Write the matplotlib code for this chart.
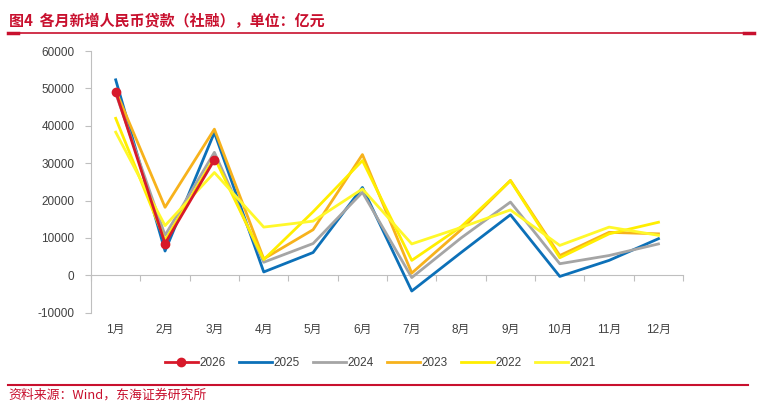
import matplotlib.pyplot as plt
from matplotlib.lines import Line2D
import numpy as np

months = ['1月', '2月', '3月', '4月', '5月', '6月', '7月', '8月', '9月', '10月', '11月', '12月']
years = ['2026', '2025', '2024', '2023', '2022', '2021']
nan = np.nan
v2026 = [49100, 8500, 30900, nan, nan, nan, nan, nan, nan, nan, nan, nan]
v2025 = [52300, 6500, 38200, 900, 6100, 23500, -4200, 6100, 16200, -300, 4000, 9800]
v2024 = [48700, 10700, 32900, 3500, 8500, 22200, -600, 10000, 19600, 3100, 5300, 8400]
v2023 = [49400, 18200, 39100, 4400, 12200, 32300, 600, 12200, 25400, 5300, 11500, 11100]
v2022 = [42000, 9300, 31500, 4200, 17000, 30700, 4000, 13000, 25300, 4700, 11100, 14200]
v2021 = [38300, 13300, 27500, 12900, 14500, 23100, 8400, 12800, 17500, 8000, 12900, 10700]
yticks = [-10000, 0, 10000, 20000, 30000, 40000, 50000, 60000]

colors = ['#D7192A', '#0C70B8', '#A5A5A5', '#F7B21C', '#FFEE00', '#FFF82A']
series = [v2026, v2025, v2024, v2023, v2022, v2021]

plt.rcParams['font.family'] = ['Liberation Sans', 'Noto Sans CJK SC']
red = '#C8102E'
txt = '#404040'
axc = '#BFBFBF'

fig = plt.figure(figsize=(7.65, 4.15), dpi=100)
ax = fig.add_axes([0.119, 0.2465, 0.774, 0.6305])

x = np.arange(len(months))
# draw older years first, 2026 on top
for i in range(len(years) - 1, -1, -1):
    if years[i] == '2026':
        ax.plot(x, series[i], color=colors[i], lw=2.0, marker='o', markersize=6, zorder=10)
    else:
        ax.plot(x, series[i], color=colors[i], lw=2.0, zorder=3 + i)

ax.set_xlim(-0.5, 11.5)
ax.set_ylim(-10000, 60000)
ax.set_yticks(yticks)
ax.set_yticklabels([str(t) for t in yticks])
ax.set_xticks(x)
ax.set_xticklabels(months)
ax.tick_params(axis='x', length=0, pad=8, labelsize=8.5, labelcolor=txt)
ax.tick_params(axis='y', direction='out', length=4, color=axc, pad=8, labelsize=8.5, labelcolor=txt)
for s in ['top', 'right', 'bottom']:
    ax.spines[s].set_visible(False)
ax.spines['left'].set_color(axc)

sec = ax.secondary_xaxis(0, transform=ax.transData)
sec.set_xticks(np.arange(-0.5, 12, 1))
sec.set_xticklabels([])
sec.tick_params(direction='out', length=4, color=axc)
sec.spines['bottom'].set_color(axc)

handles = []
for i in range(len(years)):
    if years[i] == '2026':
        handles.append(Line2D([], [], color=colors[i], lw=2.0, marker='o', markersize=6))
    else:
        handles.append(Line2D([], [], color=colors[i], lw=2.0))
fig.legend(handles, years, loc='center', bbox_to_anchor=(0.497, 0.125), ncol=6, frameon=False,
           handlelength=2.8, handletextpad=0.1, columnspacing=1.15, prop={'size': 8.5},
           labelcolor=txt)

fig.text(0.012, 0.949, '图4  各月新增人民币贷款（社融），单位：亿元', color=red, fontsize=10.8,
         fontweight='bold', family=['Noto Sans CJK SC'], va='center', ha='left')
fig.add_artist(Line2D([0.011, 0.985], [0.921, 0.921], color=red, lw=1.2))
fig.add_artist(Line2D([0.011, 0.024], [0.921, 0.921], color=red, lw=2.5))
fig.add_artist(Line2D([0.972, 0.985], [0.921, 0.921], color=red, lw=2.5))

fig.add_artist(Line2D([0.011, 0.978], [0.072, 0.072], color=red, lw=1.5))
fig.text(0.011, 0.047, '资料来源：Wind，东海证券研究所', color=red, fontsize=9.3,
         family=['Noto Sans CJK SC', 'Liberation Sans'], va='center', ha='left')

fig.savefig('out.png', dpi=100)
